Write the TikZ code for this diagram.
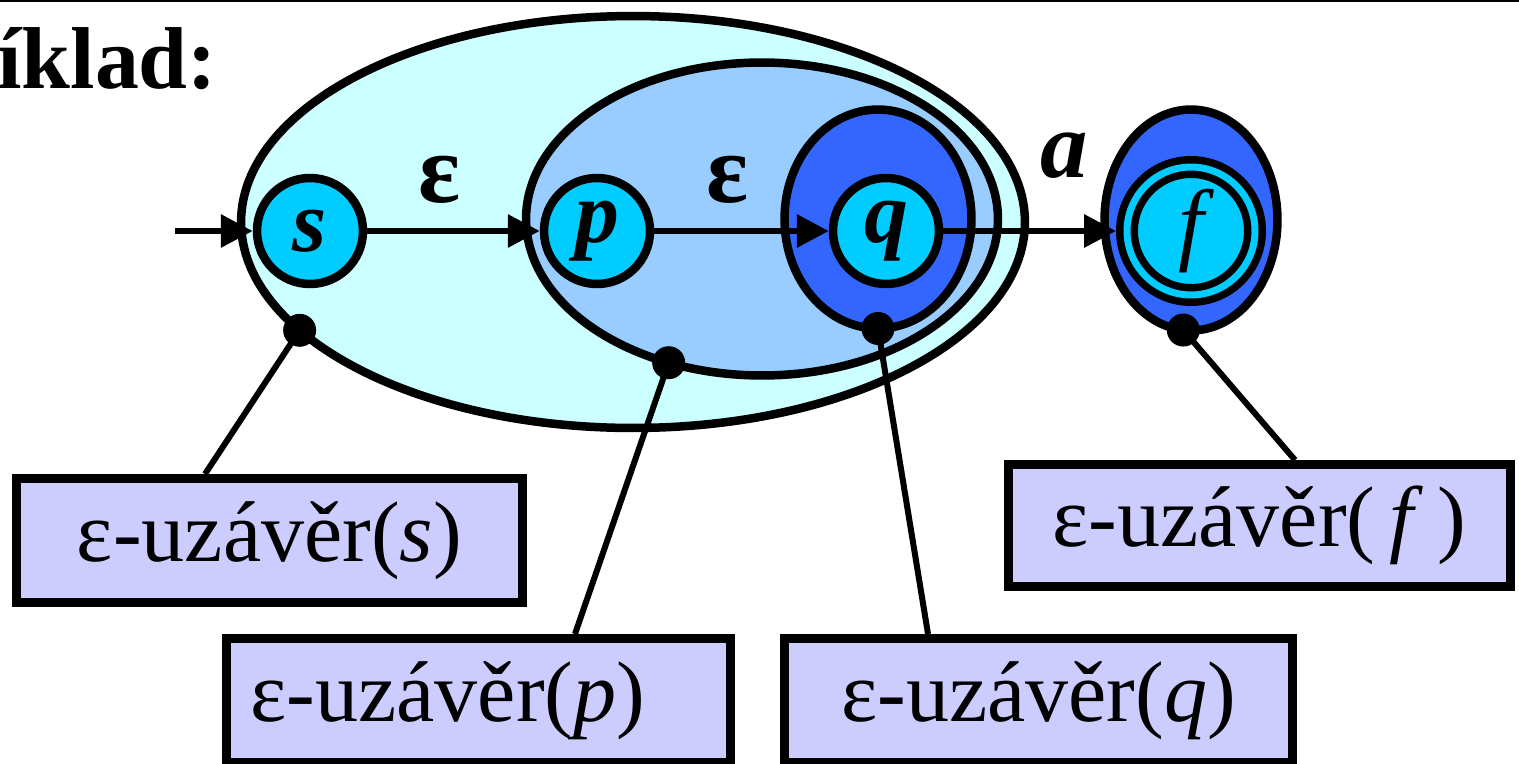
\documentclass[tikz,border=0pt]{standalone}
\usepackage{fontspec}
\setmainfont{Liberation Serif}
\usepackage{xcolor}
\usepackage{tikz}
\usetikzlibrary{arrows.meta,shapes.geometric}
\definecolor{setlight}{HTML}{CCFFFF}
\definecolor{setmid}{HTML}{99CCFF}
\definecolor{setdark}{HTML}{3366FF}
\definecolor{statecyan}{HTML}{00CCFF}
\definecolor{boxlilac}{HTML}{CCCCFF}
\tikzset{
  nfa state/.style={
    circle,
    minimum size=2.12cm,
    inner sep=0pt,
    line width=0.17cm,
    draw=black,
    fill=statecyan,
    font=\fontsize{50}{56}\selectfont\bfseries\itshape,
  },
  nfa final/.style={
    nfa state,
    minimum size=2.56cm,
    line width=0.15cm,
    double=statecyan,
    double distance=0.14cm,
    outer sep=0.22cm,
    font=\fontsize{52}{56}\selectfont\itshape,
  },
  nfa arrow/.style={-{Triangle[length=0.64cm,width=0.64cm]}, line width=0.13cm},
  nfa label/.style={inner sep=0pt, above=0.48cm, font=\fontsize{56}{60}\selectfont\bfseries},
  cl set/.style={ellipse, draw=black, line width=0.17cm, inner sep=0pt, outer sep=0pt},
  cl dot/.style={circle, fill=black, inner sep=0pt, minimum size=0.66cm},
  cl line/.style={line width=0.12cm},
  cl box/.style={
    rectangle,
    draw=black,
    line width=0.18cm,
    fill=boxlilac,
    minimum height=2.48cm,
    inner sep=0pt,
    font=\fontsize{49}{56}\selectfont,
  },
}
\begin{document}
\begin{tikzpicture}[x=0.02cm, y=-0.02cm]
  \useasboundingbox (0,0) rectangle (1519,764);
  \clip (0,0) rectangle (1519,764);
  \draw[line width=0.04cm] (0,1) -- (1519,1);
  \node[anchor=base west, inner sep=0pt, font=\fontsize{50}{54}\selectfont\bfseries] (title) at (-3,88) {íklad:};
  % closures
  \node[cl set, fill=setlight, minimum width=15.68cm, minimum height=8.24cm] (cls) at (633,222) {};
  \node[cl set, fill=setmid, minimum width=9.44cm, minimum height=6.26cm] (clp) at (762,219) {};
  \node[cl set, fill=setdark, minimum width=3.74cm, minimum height=4.38cm] (clq) at (878,219) {};
  \node[cl set, fill=setdark, minimum width=3.46cm, minimum height=4.42cm] (clf) at (1191,220) {};
  % states
  \node[nfa state] (s) at (310,231) {s};
  \node[nfa state] (p) at (597,231) {p};
  \node[nfa state] (q) at (886,231) {q};
  \node[nfa final] (f) at (1191,231) {f};
  \coordinate (start) at (175,231);
  \draw[nfa arrow] (start) -- (s);
  \draw[nfa arrow] (s) -- node[nfa label, pos=0.42] {ε} (p);
  \draw[nfa arrow] (p) -- node[nfa label, pos=0.42] {ε} (q);
  \draw[nfa arrow] (q) -- node[nfa label, pos=0.7, above=0.5cm, font=\fontsize{54}{58}\selectfont\bfseries\itshape] {a} (f);
  % boxes
  \node[cl box, minimum width=10.12cm] (boxs) at (269.5,540.5) {ε-uzávěr(\textit{s})};
  \node[cl box, minimum width=10.08cm, text width=9.12cm, align=left, inner xsep=0.48cm] (boxp) at (478.5,700.5) {ε-uzávěr(\textit{p})};
  \node[cl box, minimum width=10.16cm] (boxq) at (1038.5,700.5) {ε-uzávěr(\textit{q})};
  \node[cl box, minimum width=10.04cm, minimum height=2.44cm] (boxf) at (1259.5,525.5) {ε-uzávěr(\,\textit{f}\,)};
  % dots and connectors
  \node[cl dot] (sdot) at (cls.198.7) {};
  \node[cl dot] (pdot) at (clp.237.8) {};
  \node[cl dot] (qdot) at (clq.270) {};
  \node[cl dot] (fdot) at (clf.266) {};
  \draw[cl line] (sdot.center) -- ([xshift=-1.29cm]boxs.north);
  \draw[cl line] (pdot.center) -- ([xshift=1.93cm]boxp.north);
  \draw[cl line] (qdot.center) -- ([xshift=-2.21cm]boxq.north);
  \draw[cl line] (fdot.center) -- ([xshift=0.71cm]boxf.north);
\end{tikzpicture}
\end{document}
